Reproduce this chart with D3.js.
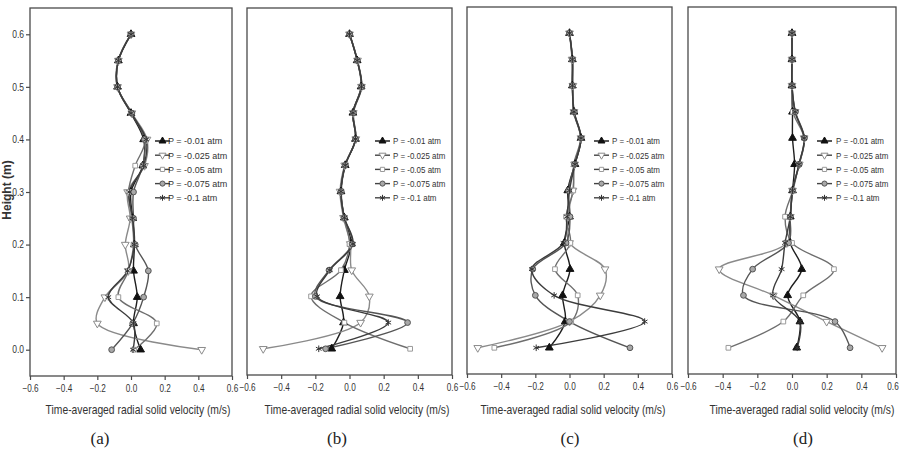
<!DOCTYPE html>
<html>
<head>
<meta charset="utf-8">
<script src="https://cdn.jsdelivr.net/npm/d3@7"></script>
<style>
  body { margin: 0; background: #fff; }
  svg { display: block; font-family: "Liberation Sans", Arial, sans-serif; }
</style>
</head>
<body>
<svg class="chart" width="899" height="454"></svg>
<script>
// heights (m), bottom to top
const heights = [0, 0.05, 0.1, 0.15, 0.2, 0.25, 0.3, 0.35, 0.4, 0.45, 0.5, 0.55, 0.6];
const seriesNames = ["P = -0.01 atm", "P = -0.025 atm", "P = -0.05 atm", "P = -0.075 atm", "P = -0.1 atm"];
const xTicks = [-0.6, -0.4, -0.2, 0.0, 0.2, 0.4, 0.6];
const yTicks = [0.0, 0.1, 0.2, 0.3, 0.4, 0.5, 0.6];
const panelLabels = ["(a)", "(b)", "(c)", "(d)"];
const xTitle = "Time-averaged radial solid velocity (m/s)";
const yTitle = "Height (m)";

// time-averaged radial solid velocity (m/s), one row per pressure, values at each height
const velA = [
  [0.057, 0.015, 0.037, 0.015, 0.02, 0.01, 0.0, 0.07, 0.075, 0.0, -0.08, -0.075, 0.0],
  [0.42, -0.2, -0.155, -0.016, -0.034, -0.005, -0.02, 0.08, 0.095, 0.005, -0.08, -0.075, 0.0],
  [0.018, 0.153, -0.075, -0.015, 0.015, 0.005, -0.015, 0.025, 0.085, 0.0, -0.082, -0.077, -0.002],
  [-0.115, 0.01, 0.075, 0.103, 0.025, 0.015, 0.015, 0.07, 0.08, 0.005, -0.08, -0.075, 0.0],
  [0.012, 0.015, -0.135, -0.02, 0.02, 0.01, -0.01, 0.075, 0.09, 0.0, -0.08, -0.075, 0.0]
];
const velB = [
  [-0.104, -0.035, -0.055, -0.03, 0.01, -0.03, -0.05, -0.025, 0.035, 0.02, 0.068, 0.045, 0.0],
  [-0.505, 0.065, 0.116, 0.013, 0.005, -0.035, -0.055, -0.028, 0.037, 0.022, 0.07, 0.047, 0.0],
  [0.355, -0.03, -0.225, -0.05, 0.0, -0.032, -0.05, -0.026, 0.035, 0.02, 0.07, 0.045, 0.0],
  [-0.14, 0.34, -0.2, -0.12, 0.015, -0.03, -0.048, -0.024, 0.036, 0.023, 0.072, 0.046, 0.002],
  [-0.18, 0.227, -0.19, -0.115, 0.02, -0.03, -0.05, -0.025, 0.035, 0.02, 0.07, 0.045, 0.0]
];
const velC = [
  [-0.118, -0.025, -0.04, 0.003, -0.03, 0.0, -0.01, 0.032, 0.067, 0.026, 0.017, 0.017, 0.0],
  [-0.537, 0.0, 0.18, 0.208, 0.0, -0.01, 0.02, 0.03, 0.067, 0.026, 0.02, 0.015, 0.0],
  [-0.44, 0.01, 0.048, -0.085, 0.005, -0.02, 0.022, 0.025, 0.065, 0.024, 0.018, 0.016, 0.0],
  [0.354, 0.0, -0.2, -0.215, -0.02, 0.003, -0.005, 0.03, 0.068, 0.028, 0.017, 0.018, 0.0],
  [-0.195, 0.44, -0.09, -0.22, -0.035, -0.015, 0.0, 0.032, 0.067, 0.026, 0.017, 0.017, 0.0]
];
const velD = [
  [0.027, 0.046, -0.025, 0.056, -0.01, -0.01, 0.003, 0.015, 0.003, 0.003, 0.0, 0.0, 0.0],
  [0.52, 0.2, -0.108, -0.42, -0.03, -0.01, 0.003, 0.042, 0.07, 0.018, 0.0, 0.0, 0.0],
  [-0.367, -0.05, 0.065, 0.242, 0.0, -0.04, 0.005, 0.04, 0.07, 0.005, 0.0, 0.0, 0.0],
  [0.335, 0.248, -0.28, -0.227, -0.02, -0.01, 0.003, 0.042, 0.072, 0.02, 0.0, 0.0, 0.0],
  [0.03, 0.046, -0.11, -0.06, -0.04, -0.01, 0.003, 0.04, 0.07, 0.018, 0.0, 0.0, 0.0]
];
const panelData = [velA, velB, velC, velD];

// layout of the four panels
const panels = [
  { left: 30, right: 232, top: 8, bottom: 376, titleX: 138, labelX: 100, legX: 155, legTextX: 168 },
  { left: 247, right: 452, top: 8, bottom: 375, titleX: 357, labelX: 337, legX: 375, legTextX: 393 },
  { left: 467, right: 672, top: 7, bottom: 374, titleX: 573, labelX: 570, legX: 594, legTextX: 612 },
  { left: 688, right: 896, top: 7, bottom: 374, titleX: 802, labelX: 803, legX: 817, legTextX: 836 }
];

// marker / line style per series
const styles = [
  { line: "#1e1e1e", symbol: d3.symbolTriangle, rot: 0, fill: "#111", stroke: "#111", size: 26 },
  { line: "#8a8a8a", symbol: d3.symbolTriangle, rot: 180, fill: "#fff", stroke: "#8a8a8a", size: 26 },
  { line: "#6e6e6e", symbol: d3.symbolSquare, rot: 0, fill: "#fff", stroke: "#9a9a9a", size: 22 },
  { line: "#555", symbol: d3.symbolCircle, rot: 0, fill: "#a8a8a8", stroke: "#555", size: 26 },
  { line: "#3c3c3c", symbol: d3.symbolAsterisk || d3.symbolTimes, rot: 0, fill: "none", stroke: "#333", size: 30 }
];

const svg = d3.select(".chart");
const frameColor = "#4a4a4a";
const textColor = "#333";
const titleScale = 0.86;

panels.forEach((p, pi) => {
  const x = d3.scaleLinear().domain([-0.6, 0.6]).range([p.left, p.right]);
  const y = d3.scaleLinear().domain([-0.05, 0.65]).range([p.bottom, p.top]);
  const g = svg.append("g");

  // frame
  g.append("rect")
    .attr("x", p.left)
    .attr("y", p.top)
    .attr("width", p.right - p.left)
    .attr("height", p.bottom - p.top)
    .attr("fill", "none")
    .attr("stroke", frameColor)
    .attr("stroke-width", 1.3);

  // x axis
  const xAxis = g.append("g")
    .attr("transform", `translate(0,${p.bottom})`)
    .call(d3.axisBottom(x).tickValues(xTicks).tickSize(4).tickPadding(5).tickFormat(d3.format(".1f")));
  xAxis.select(".domain").remove();
  xAxis.selectAll("line").attr("stroke", frameColor).attr("stroke-width", 1.2);
  xAxis.selectAll("text")
    .attr("fill", textColor)
    .style("font-size", "10px")
    .attr("transform", (d) => (pi === 3 && d === 0.6 ? "translate(-3.5,0) scale(0.82,1)" : "scale(0.82,1)"));

  g.append("text")
    .attr("transform", `translate(${p.titleX},414) scale(${titleScale},1)`)
    .attr("text-anchor", "middle")
    .attr("fill", textColor)
    .style("font-size", "12px")
    .text(xTitle);

  g.append("text")
    .attr("x", p.labelX)
    .attr("y", 444)
    .attr("text-anchor", "middle")
    .attr("fill", "#222")
    .style("font-family", "'Liberation Serif', 'DejaVu Serif', serif")
    .style("font-size", "17px")
    .text(panelLabels[pi]);

  // y axis only on the first panel
  if (pi === 0) {
    const yAxis = g.append("g")
      .attr("transform", `translate(${p.left},0)`)
      .call(d3.axisLeft(y).tickValues(yTicks).tickSize(4).tickPadding(3).tickFormat(d3.format(".1f")));
    yAxis.select(".domain").remove();
    yAxis.selectAll("line").attr("stroke", frameColor).attr("stroke-width", 1.2);
    yAxis.selectAll("text")
      .attr("fill", textColor)
      .style("font-size", "10px")
      .attr("transform", "scale(0.85,1)");

    g.append("text")
      .attr("transform", `translate(10.5,190) rotate(-90)`)
      .attr("text-anchor", "middle")
      .attr("fill", textColor)
      .style("font-size", "12px")
      .style("font-weight", "bold")
      .text(yTitle);
  }

  // curves
  const line = d3.line()
    .x((d) => x(d[0]))
    .y((d) => y(d[1]))
    .curve(d3.curveCatmullRom.alpha(0.5));

  const series = panelData[pi].map((vals, si) => ({
    si,
    pts: vals.map((v, k) => [v, heights[k]])
  }));

  g.append("g")
    .selectAll("path")
    .data(series)
    .enter()
    .append("path")
    .attr("d", (d) => line(d.pts))
    .attr("fill", "none")
    .attr("stroke", (d) => styles[d.si].line)
    .attr("stroke-width", 1.4);

  series.forEach((s) => {
    const st = styles[s.si];
    const sym = d3.symbol().type(st.symbol).size(st.size);
    g.append("g")
      .selectAll("path")
      .data(s.pts)
      .enter()
      .append("path")
      .attr("d", sym)
      .attr("transform", (d) => `translate(${x(d[0])},${y(d[1])}) rotate(${st.rot})`)
      .attr("fill", st.fill)
      .attr("stroke", st.stroke)
      .attr("stroke-width", 1);
  });

  // legend
  const leg = g.append("g");
  seriesNames.forEach((name, si) => {
    const st = styles[si];
    const ly = 141 + si * 14.2;
    leg.append("line")
      .attr("x1", p.legX)
      .attr("x2", p.legX + 15)
      .attr("y1", ly)
      .attr("y2", ly)
      .attr("stroke", si === 0 ? "#111" : "#444")
      .attr("stroke-width", 1.4);
    leg.append("path")
      .attr("d", d3.symbol().type(st.symbol).size(st.size * 0.8))
      .attr("transform", `translate(${p.legX + 7.5},${ly}) rotate(${st.rot})`)
      .attr("fill", st.fill)
      .attr("stroke", st.stroke)
      .attr("stroke-width", 1);
    leg.append("text")
      .attr("transform", `translate(${p.legTextX},${ly + 3.3}) scale(${pi === 0 ? 0.95 : 0.84},1)`)
      .attr("fill", textColor)
      .style("font-size", "9.5px")
      .text(name);
  });
});
</script>
</body>
</html>
